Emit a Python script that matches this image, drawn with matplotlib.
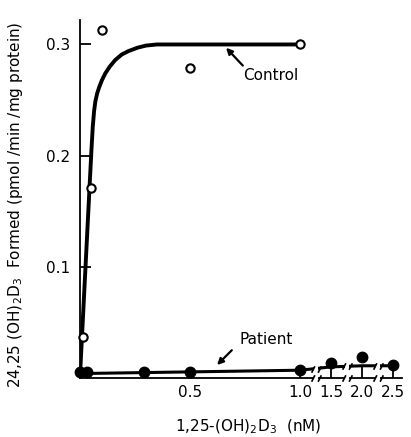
import numpy as np
import matplotlib
matplotlib.use("Agg")
import matplotlib.pyplot as plt
from matplotlib.path import Path

# values
control_x = [0.0, 0.015, 0.05, 0.1, 0.5, 1.0]
control_y = [0.005, 0.037, 0.171, 0.313, 0.279, 0.300]

control_curve_x = [0.0, 0.045, 0.052, 0.058, 0.064, 0.07, 0.078, 0.088, 0.1, 0.115,
                   0.135, 0.16, 0.19, 0.22, 0.26, 0.3, 0.35, 0.42, 1.0]
control_curve_y = [0.002, 0.178, 0.205, 0.226, 0.240, 0.249, 0.256, 0.262, 0.268, 0.274,
                   0.280, 0.286, 0.291, 0.294, 0.297, 0.299, 0.300, 0.300, 0.300]

patient_x = [0.0, 0.03, 0.29, 0.5, 1.0, 1.5, 2.0, 2.5]
patient_y = [0.005, 0.005, 0.005, 0.005, 0.007, 0.0135, 0.019, 0.012]

patient_line_x = [0.0, 1.0, 1.5, 2.0, 2.5]
patient_line_y = [0.004, 0.007, 0.010, 0.011, 0.011]

x_ticks = [0.5, 1.0, 1.5, 2.0, 2.5]
x_labels = ["0.5", "1.0", "1.5", "2.0", "2.5"]
y_ticks = [0.1, 0.2, 0.3]
y_labels = ["0.1", "0.2", "0.3"]
breaks = [1.0, 1.5, 2.0, 2.5]

# axis is compressed beyond 1 nM
K = 0.2818


def fwd(x):
    x = np.asarray(x, dtype=float)
    return np.where(x <= 1, x, 1 + (x - 1) * K)


def inv(u):
    u = np.asarray(u, dtype=float)
    return np.where(u <= 1, u, 1 + (u - 1) / K)


# two slanted strokes for the axis breaks
slash = Path([(-3, -2), (-1, 2), (1, -2), (3, 2)],
             [Path.MOVETO, Path.LINETO, Path.MOVETO, Path.LINETO])

plt.rcParams["font.family"] = ["DejaVu Sans"]

fig = plt.figure(figsize=(4.11, 4.37), dpi=100)
ax = fig.add_axes([80 / 411, 59 / 437, 322 / 411, 358 / 437])
ax.set_xscale("function", functions=(fwd, inv))
ax.set_xlim(0, 2.645)
ax.set_ylim(0, 0.322)

for s in ["top", "right"]:
    ax.spines[s].set_visible(False)
for s in ["left", "bottom"]:
    ax.spines[s].set_linewidth(1.3)

ax.plot(control_curve_x, control_curve_y, color="black", lw=2.8,
        solid_capstyle="round", zorder=2)
ax.plot(control_x, control_y, "o", ms=6, mfc="white", mec="black",
        mew=1.5, zorder=4, clip_on=False)

ax.plot(patient_line_x, patient_line_y, color="black", lw=2.2, zorder=2)
ax.plot(patient_x, patient_y, "o", ms=7.5, color="black", zorder=4,
        clip_on=False)

# break marks on axis and patient line
mids = [float(inv((fwd(a) + fwd(b)) / 2)) for a, b in zip(breaks[:-1], breaks[1:])]
for xm in mids:
    yl = float(np.interp(fwd(xm), fwd(patient_line_x), patient_line_y))
    for yy in [0.0, yl]:
        ax.plot([xm], [yy], marker="_", ms=3.5, mew=4, color="white",
                zorder=5, clip_on=False)
        ax.plot([xm], [yy], marker=slash, ms=7, mfc="none", mec="black",
                mew=1.2, zorder=6, clip_on=False)

ax.set_xticks(x_ticks)
ax.set_xticklabels(x_labels)
ax.set_yticks(y_ticks)
ax.set_yticklabels(y_labels)
ax.tick_params(axis="both", direction="in", length=8, width=1.3,
               labelsize=11, colors="black")
ax.tick_params(axis="x", pad=5)
ax.tick_params(axis="y", pad=7)
ax.minorticks_off()

ax.set_xlabel(r"1,25-(OH)$_2$D$_3$  (nM)", fontsize=11)
ax.xaxis.set_label_coords(0.522, -0.112)
ax.set_ylabel(r"24,25 (OH)$_2$D$_3$  Formed (pmol /min /mg protein)", fontsize=11)
ax.yaxis.set_label_coords(-0.171, 0.483)

ax.annotate("", xy=(0.664, 0.297), xytext=(0.74, 0.281),
            arrowprops=dict(arrowstyle="-|>", color="black", lw=1.6,
                            mutation_scale=9, shrinkA=0, shrinkB=0))
ax.text(0.868, 0.272, "Control", ha="center", va="center", fontsize=11)

ax.annotate("", xy=(0.623, 0.0117), xytext=(0.69, 0.025),
            arrowprops=dict(arrowstyle="-|>", color="black", lw=1.6,
                            mutation_scale=9, shrinkA=0, shrinkB=0))
ax.text(0.845, 0.035, "Patient", ha="center", va="center", fontsize=11)

fig.savefig("out.png", dpi=100)
